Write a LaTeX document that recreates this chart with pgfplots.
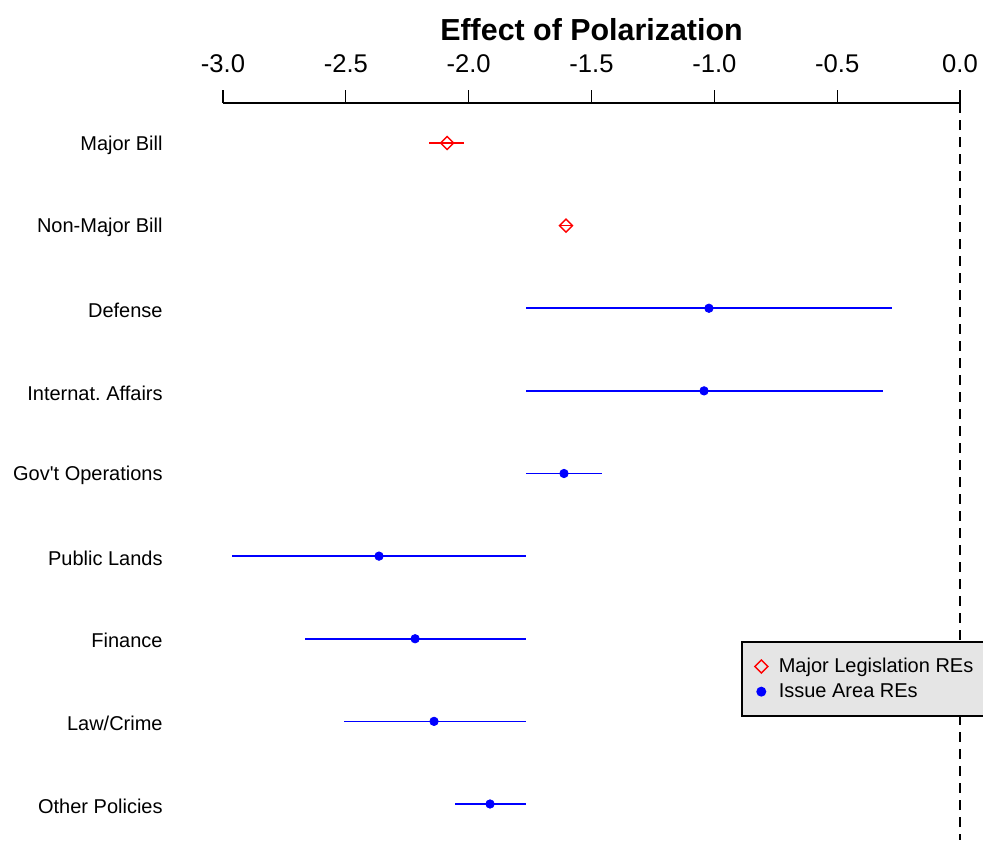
\documentclass[border=0pt]{standalone}
\usepackage{fontspec}
\setmainfont{Liberation Sans}
\usepackage{pgfplots}
\usepackage{pgfplotstable}
\pgfplotsset{compat=1.18}
\pgfplotstableread{
y x em ep
1 -2.088 0.073 0.069
2 -1.604 0.028 0.027
}\major
\pgfplotstableread{
y x em ep
3 -1.022 0.745 0.745
4 -1.042 0.725 0.729
5 -1.612 0.155 0.155
6 -2.365 0.600 0.600
7 -2.218 0.448 0.451
8 -2.141 0.366 0.374
9 -1.913 0.143 0.146
}\issue
\begin{document}
\begin{tikzpicture}
\begin{axis}[
  scale only axis,
  width=368.5pt, height=368.5pt,
  at={(111.5pt,-420pt)}, anchor=south west,
  xmin=-3, xmax=0,
  ymin=0.516, ymax=9.436,
  y dir=reverse,
  clip=false,
  axis x line*=top,
  axis y line*=left,
  y axis line style={draw=none},
  x axis line style={line width=0.75pt},
  xtick={-3,-2.5,-2,-1.5,-1,-0.5,0},
  xtick align=outside,
  xtick style={line width=0.6pt, black},
  major tick length=6.5pt,
  xticklabel style={font=\fontsize{12.8}{15}\selectfont, yshift=5pt},
  x tick label style={/pgf/number format/.cd, fixed, fixed zerofill, precision=1, assume math mode=true},
  ytick={1,2,3,4,5,6,7,8,9},
  yticklabels={Major Bill, Non-Major Bill, Defense, Internat.\ Affairs, Gov\textquotesingle t Operations, Public Lands, Finance, Law/Crime, Other Policies},
  ytick style={draw=none},
  yticklabel style={font=\fontsize{10}{12}\selectfont, inner sep=0pt, anchor=east, xshift=-30pt, yshift=-1pt},
  title={Effect of Polarization},
  title style={font=\fontsize{15.2}{18}\selectfont\bfseries, at={(axis description cs:0.5,1)}, anchor=center, yshift=30.5pt},
  legend cell align=left,
  legend style={at={(0.7029,0.270)}, anchor=north west, fill=gray!20, draw=black, line width=0.75pt,
    font=\fontsize{10}{12}\selectfont, inner xsep=6.5pt, inner ysep=6pt},
]
\addplot[only marks, red, mark=square, mark options={rotate=45}, mark size=2.3pt, line width=0.7pt,
  error bars/.cd, x dir=both, x explicit, error mark=none,
  error bar style={line width=0.8pt, red}]
  table[x=x, y=y, x error minus=em, x error plus=ep] {\major};
\addlegendentry{\hspace{3.5pt}Major Legislation REs\hspace{25pt}}
\addplot[only marks, blue, mark=*, mark size=2.1pt,
  error bars/.cd, x dir=both, x explicit, error mark=none,
  error bar style={line width=0.8pt, blue}]
  table[x=x, y=y, x error minus=em, x error plus=ep] {\issue};
\addlegendentry{\hspace{3.5pt}Issue Area REs}
\addplot[black, line width=0.6pt, dash pattern=on 5pt off 3.5pt, forget plot] coordinates {(0,0.516) (0,9.436)};
\end{axis}
\pgfresetboundingbox
\useasboundingbox (0,0) rectangle (491.5pt,-420pt);
\end{tikzpicture}
\end{document}
